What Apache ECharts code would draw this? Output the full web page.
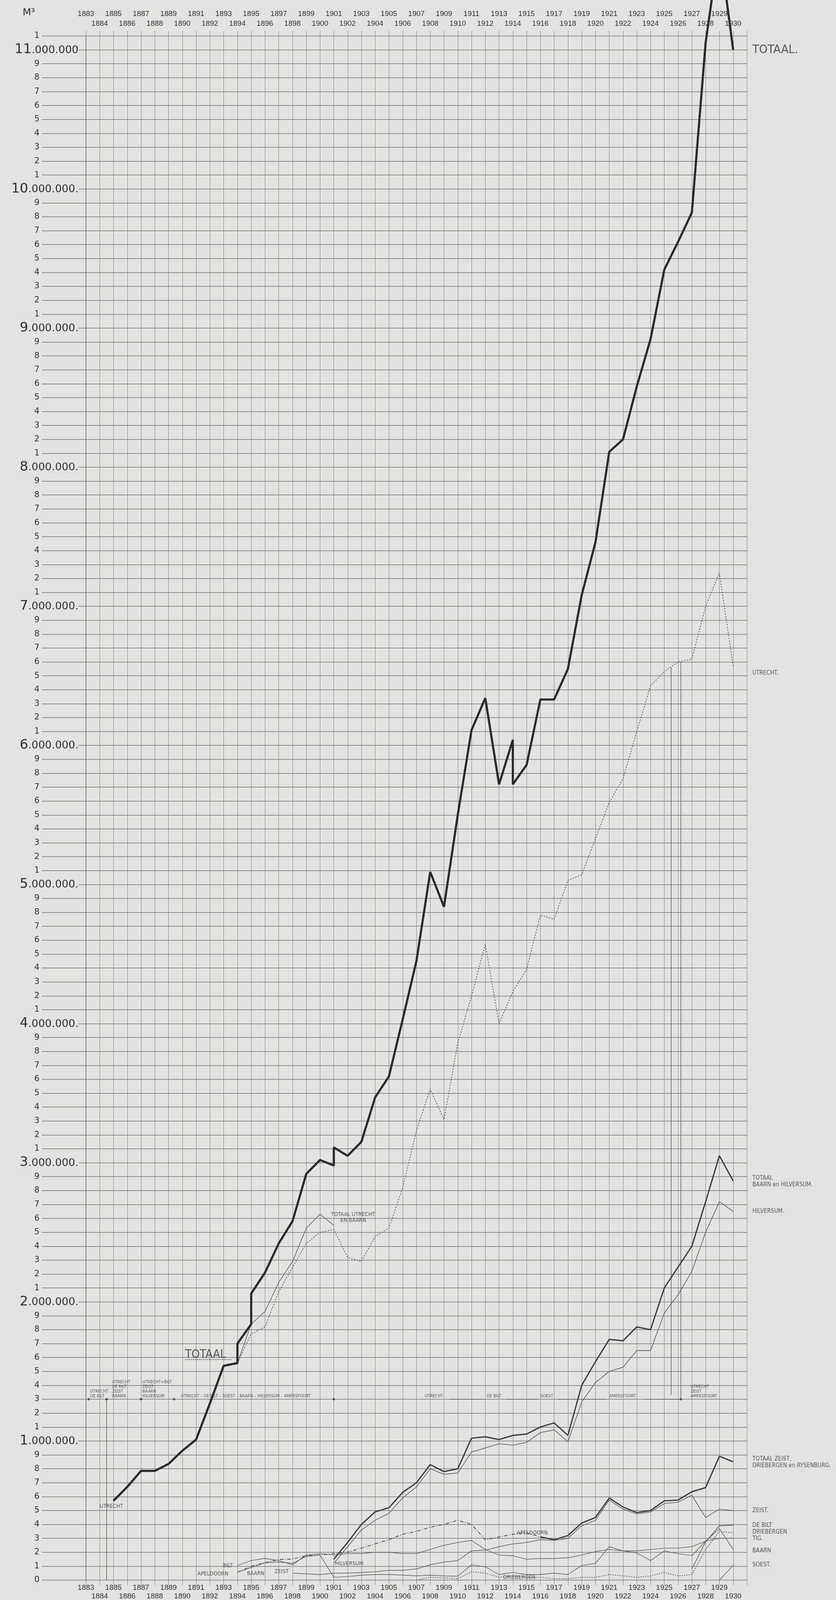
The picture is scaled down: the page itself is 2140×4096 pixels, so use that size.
<!DOCTYPE html>
<html><head><meta charset="utf-8">
<script src="https://cdn.jsdelivr.net/npm/echarts@6/dist/echarts.min.js"></script>
<style>html,body{margin:0;padding:0;background:#e3e3e1;}#c{width:2140px;height:4096px;}</style>
</head><body><div id="c"></div>
<script>
// ---- data (values in millions of m3) ----
const yearMin = 1883, yearMax = 1931;
const totaal = [[1885,0.57],[1886,0.67],[1887,0.785],[1888,0.785],[1889,0.835],[1890,0.93],[1891,1.01],[1892,1.27],[1893,1.54],[1894,1.56],[1894,1.70],[1895,1.84],[1895,2.06],[1896,2.21],[1897,2.42],[1898,2.58],[1899,2.92],[1900,3.02],[1901,2.98],[1901,3.11],[1902,3.05],[1903,3.15],[1904,3.47],[1905,3.62],[1906,4.03],[1907,4.45],[1908,5.09],[1909,4.84],[1910,5.5],[1911,6.11],[1912,6.34],[1913,5.72],[1914,6.04],[1914,5.72],[1915,5.86],[1916,6.33],[1917,6.33],[1918,6.55],[1919,7.08],[1920,7.46],[1921,8.11],[1922,8.20],[1923,8.58],[1924,8.92],[1925,9.42],[1926,9.62],[1927,9.83],[1928,11.05],[1929,11.75],[1930,11.0]];
const utrecht = [[1894,1.56],[1895,1.77],[1896,1.82],[1897,2.07],[1898,2.25],[1899,2.42],[1900,2.5],[1901,2.52],[1902,2.32],[1903,2.29],[1904,2.47],[1905,2.53],[1906,2.82],[1907,3.23],[1908,3.53],[1909,3.31],[1910,3.86],[1911,4.2],[1912,4.57],[1913,4.0],[1914,4.23],[1915,4.39],[1916,4.78],[1917,4.75],[1918,5.03],[1919,5.07],[1920,5.33],[1921,5.59],[1922,5.76],[1923,6.1],[1924,6.43],[1925,6.53],[1926,6.6],[1927,6.62],[1928,7.0],[1929,7.24],[1930,6.57]];
const utrechtBaarn = [[1894,1.56],[1895,1.84],[1896,1.93],[1897,2.14],[1898,2.29],[1899,2.53],[1900,2.63],[1901,2.55]];
const baarnHilversum = [[1901,0.15],[1902,0.27],[1903,0.40],[1904,0.49],[1905,0.52],[1906,0.63],[1907,0.70],[1908,0.83],[1909,0.78],[1910,0.80],[1911,1.02],[1912,1.03],[1913,1.01],[1914,1.04],[1915,1.05],[1916,1.10],[1917,1.13],[1918,1.04],[1919,1.40],[1920,1.57],[1921,1.73],[1922,1.72],[1923,1.82],[1924,1.80],[1925,2.10],[1926,2.25],[1927,2.40],[1928,2.72],[1929,3.05],[1930,2.87]];
const hilversum = [[1901,0.12],[1902,0.24],[1903,0.36],[1904,0.43],[1905,0.48],[1906,0.59],[1907,0.67],[1908,0.80],[1909,0.76],[1910,0.77],[1911,0.92],[1912,0.95],[1913,0.98],[1914,0.97],[1915,0.99],[1916,1.06],[1917,1.08],[1918,0.995],[1919,1.28],[1920,1.42],[1921,1.50],[1922,1.53],[1923,1.65],[1924,1.65],[1925,1.92],[1926,2.05],[1927,2.22],[1928,2.50],[1929,2.72],[1930,2.65]];
const zeistTotaal = [[1916,0.31],[1917,0.29],[1918,0.32],[1919,0.41],[1920,0.45],[1921,0.59],[1922,0.525],[1923,0.485],[1924,0.50],[1925,0.57],[1926,0.575],[1927,0.635],[1928,0.665],[1929,0.89],[1930,0.85]];
const zeist = [[1898,0.05],[1899,0.045],[1900,0.04],[1901,0.05],[1902,0.05],[1903,0.055],[1904,0.06],[1905,0.07],[1906,0.07],[1907,0.08],[1908,0.11],[1909,0.13],[1910,0.14],[1911,0.21],[1912,0.215],[1913,0.24],[1914,0.26],[1915,0.27],[1916,0.29],[1917,0.285],[1918,0.30],[1919,0.39],[1920,0.43],[1921,0.575],[1922,0.51],[1923,0.475],[1924,0.49],[1925,0.55],[1926,0.56],[1927,0.61],[1928,0.45],[1929,0.51],[1930,0.50]];
const apeldoorn = [[1894,0.056],[1895,0.10],[1896,0.125],[1897,0.148],[1898,0.15],[1899,0.176],[1900,0.18],[1901,0.19],[1902,0.20],[1903,0.23],[1904,0.26],[1905,0.29],[1906,0.33],[1907,0.35],[1908,0.38],[1909,0.40],[1910,0.43],[1911,0.40],[1912,0.29],[1913,0.31],[1914,0.33],[1915,0.34],[1916,0.31]];
const deBilt = [[1894,0.104],[1895,0.14],[1896,0.156],[1897,0.14],[1898,0.11],[1899,0.18],[1900,0.19],[1901,0.18],[1902,0.19],[1903,0.19],[1904,0.20],[1905,0.20],[1906,0.19],[1907,0.19],[1908,0.22],[1909,0.25],[1910,0.27],[1911,0.285],[1912,0.22],[1913,0.18],[1914,0.175],[1915,0.15],[1916,0.155],[1917,0.155],[1918,0.16],[1919,0.18],[1920,0.205],[1921,0.22],[1922,0.21],[1923,0.21],[1924,0.22],[1925,0.23],[1926,0.23],[1927,0.24],[1928,0.28],[1929,0.30],[1930,0.30]];
const baarn = [[1894,0.056],[1895,0.09],[1896,0.125],[1897,0.13],[1898,0.12],[1899,0.17],[1900,0.18],[1901,0.02],[1902,0.025],[1903,0.035],[1904,0.04],[1905,0.04],[1906,0.036],[1907,0.03],[1908,0.035],[1909,0.03],[1910,0.028],[1911,0.11],[1912,0.095],[1913,0.04],[1914,0.055],[1915,0.04],[1916,0.04],[1917,0.05],[1918,0.04],[1919,0.105],[1920,0.12],[1921,0.24],[1922,0.21],[1923,0.195],[1924,0.14],[1925,0.21],[1926,0.19],[1927,0.175],[1928,0.28],[1929,0.37],[1930,0.22]];
const driebergen = [[1907,0.0],[1908,0.02],[1909,0.015],[1910,0.01],[1911,0.06],[1912,0.05],[1913,0.02],[1914,0.03],[1915,0.02],[1916,0.02],[1917,0.01],[1918,0.01],[1919,0.02],[1920,0.02],[1921,0.04],[1922,0.03],[1923,0.02],[1924,0.03],[1925,0.055],[1926,0.03],[1927,0.04],[1928,0.22],[1929,0.35],[1930,0.34]];
const deBiltNew = [[1927,0.08],[1928,0.275],[1929,0.39],[1930,0.395]];
const soest = [[1929,0.0],[1930,0.105]];

// text labels: [text, year, value]
const sideLabels = [['TOTAAL.',11.0],['UTRECHT.',6.52],['TOTAAL\nBAARN en HILVERSUM.',2.865],['HILVERSUM.',2.65],['TOTAAL ZEIST,\nDRIEBERGEN en RYSENBURG.',0.845],['ZEIST.',0.50],['DE BILT\nDRIEBERGEN\nTIG.',0.345],['BAARN',0.21],['SOEST.',0.11]];
const inlineNotes = [['UTRECHT',1884.0,0.53],['TOTAAL UTRECHT\n      EN BAARN',1900.8,2.605],['HILVERSUM',1901.1,0.116],['BILT',1892.95,0.104],['APELDOORN',1891.1,0.044],['BAARN',1894.7,0.048],['ZEIST',1896.7,0.06],['APELDOORN',1914.3,0.34],['DRIEBERGEN',1913.3,0.02]];
const bigNote = ['TOTAAL',1890.2,1.62];
const bigNoteUnderline = [[1890.2,1.585],[1893.6,1.585]];
const rowValue = 1.30;
const rowDots = [1883.2,1884.5,1887.0,1889.4,1901.0,1926.2];
const rowNotes = [['UTRECHT\nDE BILT',1883.3],['UTRECHT\nDE BILT\nZEIST\nBAARN',1884.9],['UTRECHT+BILT\nZEIST\nBAARN\nHILVERSUM',1887.1],['UTRECHT – DE BILT – SOEST – BAARN – HILVERSUM – AMERSFOORT',1889.9],['UTRECHT',1907.6],['DE BILT',1912.1],['SOEST',1916.0],['AMERSFOORT',1921.0],['UTRECHT\nZEIST\nAMERSFOORT',1926.9]];
const rowDashes = [[1909.4,1911.9],[1913.5,1915.8],[1917.3,1920.8],[1923.6,1926.1]];
// vertical pointer lines: [year, fromValue, toValue]
const pointers = [[1884.5,1.30,0.0],[1925.5,1.33,6.56],[1926.2,1.30,6.6]];

// ---- chart ----
const BG = '#e3e3e1';
const INK = '#2f2f2f';
const NARROW = "'Liberation Sans Narrow','DejaVu Sans Condensed',sans-serif";
const chart = echarts.init(document.getElementById('c'), null, {renderer:'canvas'});

function lineSeries(name, data, style, extra) {
  return Object.assign({type:'line', name, data, symbol:'none', silent:true, animation:false,
    lineStyle:Object.assign({color:INK, width:1.5}, style), z:5}, extra || {});
}
function textPoint(value, text, label) {
  return {value, label:Object.assign({show:true, formatter:text, color:INK, fontFamily:NARROW}, label)};
}

const dashData = [];
rowDashes.forEach(d => { dashData.push([d[0],rowValue]); dashData.push([d[1],rowValue]); dashData.push([d[1],'-']); });
const pointerData = [];
pointers.forEach(p => { pointerData.push([p[0],p[1]]); pointerData.push([p[0],p[2]]); pointerData.push([p[0],'-']); });

const yearFont = "'Liberation Sans',sans-serif";
function yearAxis(position, parity, margin, offset, primary) {
  return {
    type:'value', min:yearMin, max:yearMax, interval:1, position, offset,
    axisLine:{show:false},
    axisTick:{show:primary, length:13, lineStyle:{color:'#7a7a7a', width:1}},
    splitLine:{show:primary && position==='bottom', lineStyle:{color:'#7c7c7c', width:1}},
    axisLabel:{showMinLabel:true, showMaxLabel:true, margin, fontSize:19, color:INK, fontFamily:yearFont,
      formatter:v => (v===yearMax || Math.abs(v%2)!==parity) ? '' : String(v)}
  };
}

const option = {
  backgroundColor: BG,
  animation: false,
  grid: {left:220, right:228, top:92, bottom:50},
  xAxis: [
    yearAxis('bottom', 1, 10, 0, true),
    yearAxis('bottom', 0, 10, 22, false),
    yearAxis('top', 0, 22, 0, true),
    yearAxis('top', 1, 22, 25, false)
  ],
  yAxis: {
    type:'value', min:0, max:11.1, interval:0.1,
    axisLine:{show:true, lineStyle:{color:'#6e6e6e', width:1.5}},
    axisTick:{show:true, length:113, lineStyle:{color:'#6e6e6e', width:1.6}},
    splitLine:{show:true, lineStyle:{color:'#707070', width:1.5}},
    axisLabel:{
      showMinLabel:true, showMaxLabel:true,
      margin:19, align:'right', color:INK, fontFamily:"'DejaVu Sans',sans-serif",
      formatter:v => {
        const m = Math.round(v*10);
        if (m>0 && m%10===0) return '{big|'+(m/10)+'}{small|.000.000'+(m===110?'':'.')+'}';
        return '{d|'+(m%10)+'}';
      },
      rich:{
        big:{fontSize:34, fontFamily:"'DejaVu Sans',sans-serif", color:INK, backgroundColor:BG, padding:[2,0,2,4]},
        small:{fontSize:27, fontFamily:"'DejaVu Sans',sans-serif", color:INK, backgroundColor:BG, padding:[4,0,2,0]},
        d:{fontSize:21, fontFamily:"'DejaVu Sans',sans-serif", color:INK, padding:[0,100,0,0]}
      }
    }
  },
  graphic:[{type:'text', left:58, top:20, style:{text:'M³', fontSize:25, fill:INK, fontFamily:"'DejaVu Sans',sans-serif"}}],
  series: [
    lineSeries('pointers', pointerData, {width:1.4, color:'#555'}),
    lineSeries('apeldoorn', apeldoorn, {width:2, type:[9,4,2,4], color:'#4a4a4a'}),
    lineSeries('deBilt', deBilt, {width:1.4, color:'#555'}),
    lineSeries('baarn', baarn, {width:1.4, color:'#555'}),
    lineSeries('driebergen', driebergen, {width:1.8, type:[3,3], color:'#555'}),
    lineSeries('deBiltNew', deBiltNew, {width:1.6, color:'#555'}),
    lineSeries('soest', soest, {width:1.4, color:'#555'}),
    lineSeries('zeist', zeist, {width:1.5, color:'#555'}),
    lineSeries('zeistTotaal', zeistTotaal, {width:3.2, color:'#3a3a3a'}),
    lineSeries('hilversum', hilversum, {width:1.6, color:'#555'}),
    lineSeries('baarnHilversum', baarnHilversum, {width:3.2, color:'#3a3a3a'}),
    lineSeries('utrechtBaarn', utrechtBaarn, {width:1.5, color:'#555'}),
    lineSeries('utrecht', utrecht, {width:2, type:[3,4], color:'#4f4f4f'}),
    lineSeries('totaal', totaal, {width:5.5, color:'#2a2a2a'}, {clip:false, z:6}),
    lineSeries('underline', bigNoteUnderline, {width:1.5, type:[3,2], color:'#444'}),
    lineSeries('rowDashes', dashData, {width:1.2, color:'#555'}),
    {type:'scatter', name:'rowDots', silent:true, symbol:'circle', symbolSize:6, itemStyle:{color:'#333'}, z:7,
      data: rowDots.map(y => [y,rowValue])},
    {type:'scatter', name:'sideLabels', silent:true, symbolSize:0, clip:false, z:8,
      data: sideLabels.map((s,i) => textPoint([yearMax, s[1]], s[0], {position:'right', distance:14,
        fontSize: i===0 ? 31 : 15, lineHeight: i===0 ? 32 : 17, align:'left', verticalAlign:'middle'}))},
    {type:'scatter', name:'inlineNotes', silent:true, symbolSize:0, z:8,
      data: inlineNotes.map(s => textPoint([s[1], s[2]], s[0], {position:[0,0], fontSize:14, lineHeight:15,
        align:'left', verticalAlign:'middle'}))},
    {type:'scatter', name:'bigNote', silent:true, symbolSize:0, z:8,
      data:[textPoint([bigNote[1], bigNote[2]], bigNote[0], {position:[0,0], fontSize:30, align:'left', verticalAlign:'middle'})]},
    {type:'scatter', name:'rowNotes', silent:true, symbolSize:0, z:8,
      data: rowNotes.map(s => textPoint([s[1], rowValue], s[0], {position:[0,-2], fontSize:11, lineHeight:12,
        align:'left', verticalAlign:'bottom'}))}
  ]
};
chart.setOption(option);
</script></body></html>
